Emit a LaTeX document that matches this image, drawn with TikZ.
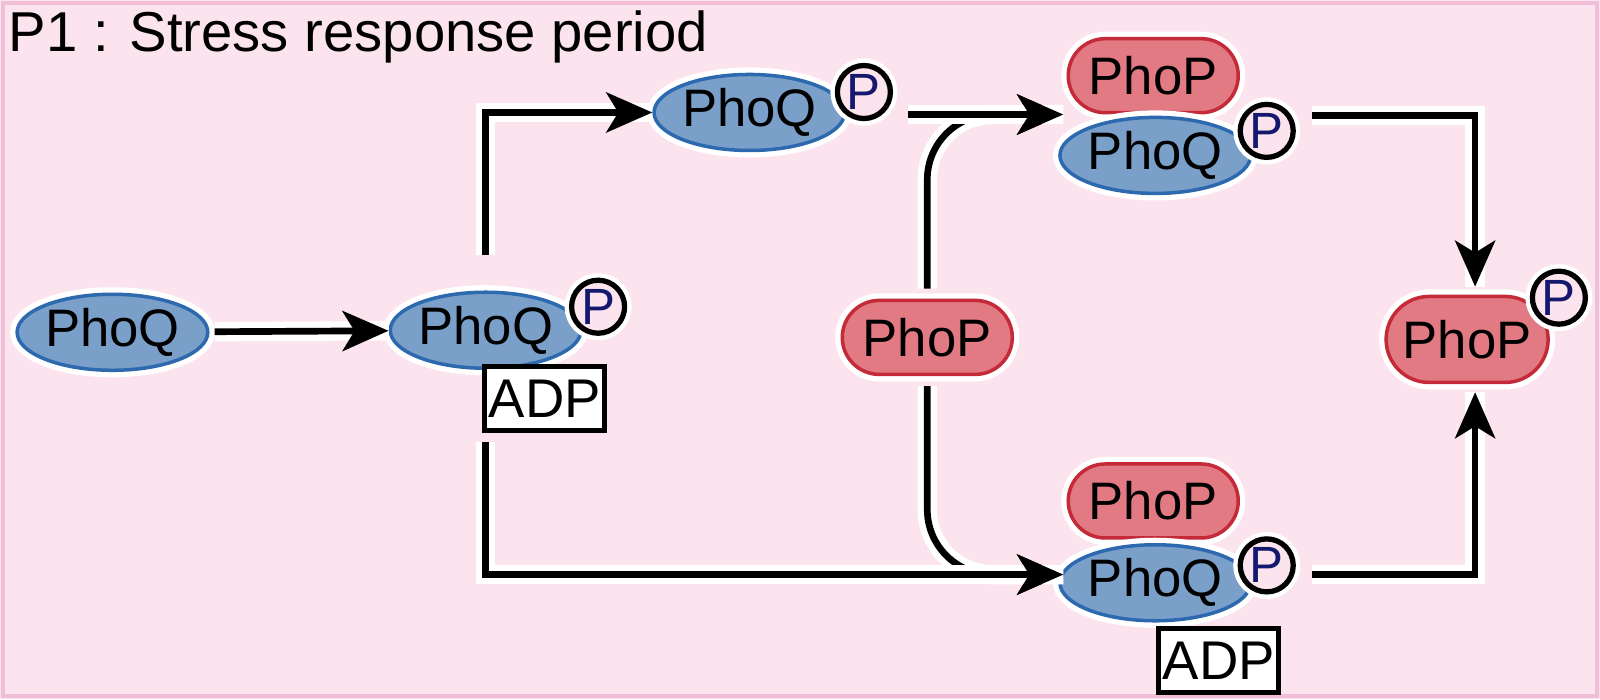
\documentclass[tikz,border=0pt]{standalone}
\usepackage{fontspec}
\setmainfont{Liberation Sans}
\usetikzlibrary{shapes, arrows.meta, positioning}
\definecolor{bgpink}{RGB}{251,228,238}
\definecolor{edgepink}{RGB}{240,190,214}
\definecolor{qfill}{RGB}{122,160,202}
\definecolor{qedge}{RGB}{45,105,175}
\definecolor{pfill}{RGB}{226,122,132}
\definecolor{pedge}{RGB}{196,42,56}
\definecolor{pnavy}{RGB}{20,25,110}
\tikzstyle{glow} = [preaction={draw=white, line width=4pt}]
\tikzstyle{phoq} = [ellipse, glow, draw=qedge, line width=1pt, fill=qfill, inner sep=0pt, minimum width=1.9cm, minimum height=0.76cm, font=\fontsize{15}{16}\selectfont]
\tikzstyle{phop} = [rounded rectangle, glow, draw=pedge, line width=1pt, fill=pfill, inner sep=0pt, minimum width=1.7cm, minimum height=0.74cm, font=\fontsize{15}{16}\selectfont]
\tikzstyle{phos} = [circle, glow, draw=black, line width=1.5pt, fill=bgpink, inner sep=0pt, minimum size=0.53cm, text=pnavy, font=\fontsize{14.5}{15}\selectfont]
\tikzstyle{adp} = [rectangle, draw, line width=1.4pt, fill=white, inner sep=0pt, minimum width=1.2cm, minimum height=0.64cm, font=\fontsize{15.5}{16}\selectfont]
\tikzstyle{flow} = [line width=1.9pt, -{Stealth[length=0.46cm, width=0.4cm, inset=0.12cm]}, preaction={draw=white, line width=5.5pt, -}]

\begin{document}
\begin{tikzpicture}[x=0.010225cm, y=-0.010225cm]
      \useasboundingbox (0,0) rectangle (1565,684);
      \fill[bgpink] (0,0) rectangle (1565,684);
      \draw[edgepink, line width=0.04cm] (3,3) rectangle (1562,681);
      \node[anchor=base west, inner sep=0pt, font=\fontsize{16}{18}\selectfont] (title) at (8,50) {P1 : Stress response period};

      % left part
      \node[phoq] (q1) at (110,325) {PhoQ};
      \node[phoq] (q2) at (475,323) {PhoQ};
      \node[phos] (p2) at (585,300) {P};
      \node[adp] (adp1) at (533,390) {ADP};
      \node[phoq] (q3) at (733,110) {PhoQ};
      \node[phos] (p3) at (845,90) {P};
      \node[phop] (pm) at (907,330) {PhoP};

      % complexes
      \node[phop] (pp1) at (1128,74) {PhoP};
      \node[phoq] (qq1) at (1130,152) {PhoQ};
      \node[phos] (pc1) at (1239,128) {P};
      \node[phop] (pp2) at (1128,490) {PhoP};
      \node[phoq] (qq2) at (1130,570) {PhoQ};
      \node[phos] (pc2) at (1239,553) {P};
      \node[adp] (adp2) at (1192,646) {ADP};

      % product
      \node[phop, minimum width=1.62cm, minimum height=0.86cm] (pr) at (1435,332) {PhoP};
      \coordinate (prc) at (pr.east |- pr.north);
      \node[phos] (pcr) at ([xshift=0.09cm, yshift=-0.03cm]prc) {P};

      \coordinate (topin) at (1040,112);
      \coordinate (botin) at (1040,562);
      \coordinate (topout) at (1283,113);
      \coordinate (botout) at (1283,562);

      \draw[flow, shorten <=0.05cm] (q1) -- (q2);
      \draw[flow] ([yshift=0.35cm]q2.north) |- (q3);
      \draw[flow, rounded corners=0.65cm, shorten <=0.1cm] (pm.north) |- (topin);
      \draw[flow, rounded corners=0.65cm, shorten <=0.1cm] (pm.south) |- (botin);
      \draw[flow] ([yshift=-0.72cm]q2.south) |- (botin);
      \draw[flow] ([xshift=0.15cm]p3.east |- topin) -- (topin);
      \draw[flow, shorten >=0.08cm] (topout) -| ([xshift=0.08cm]pr.north);
      \draw[flow, shorten >=0.08cm] (botout) -| ([xshift=0.08cm]pr.south);
    \end{tikzpicture}
\end{document}
